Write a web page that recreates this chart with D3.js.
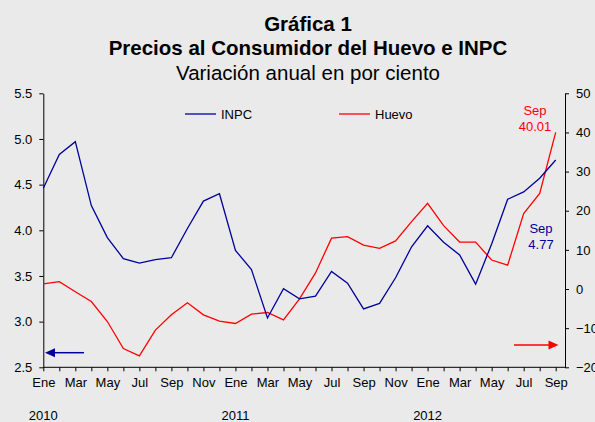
<!DOCTYPE html>
<html lang="es">
	<head>
		<meta charset="utf-8">
		<title>Gráfica 1</title>
		<script type="text/javascript" src="https://cdn.jsdelivr.net/npm/d3@7"></script>
		<style type="text/css">
			body {
				margin: 0;
				background-color: #eaeaea;
			}
			svg {
				display: block;
				font-family: "Liberation Sans", Arial, sans-serif;
			}
			.axis text {
				font-size: 13px;
				fill: #000;
			}
			.axis line, .axis path {
				stroke: #000;
			}
		</style>
	</head>
	<body>
		<script type="text/javascript">

			//Data: Jan 2010 .. Sep 2012, annual % change
			var monthLabels = ["Ene", "Feb", "Mar", "Abr", "May", "Jun", "Jul", "Ago", "Sep", "Oct", "Nov", "Dic"];
			var years = ["2010", "2011", "2012"];

			var inpc = [4.46, 4.83, 4.97, 4.27, 3.92, 3.69, 3.64, 3.68, 3.70, 4.02, 4.32, 4.40,
						3.78, 3.57, 3.04, 3.36, 3.25, 3.28, 3.55, 3.42, 3.14, 3.20, 3.48, 3.82,
						4.05, 3.87, 3.73, 3.41, 3.85, 4.34, 4.42, 4.57, 4.77];

			var huevo = [1.3, 1.9, -0.7, -3.2, -8.3, -15.2, -17.1, -10.5, -6.6, -3.5, -6.6, -8.2,
						 -8.8, -6.4, -6.0, -7.9, -2.5, 4.1, 13.0, 13.4, 11.2, 10.4, 12.3, 17.2,
						 21.9, 16.2, 12.0, 12.0, 7.4, 6.1, 19.3, 24.4, 40.01];

			var leftTicks = [2.5, 3.0, 3.5, 4.0, 4.5, 5.0, 5.5];
			var rightTicks = [-20, -10, 0, 10, 20, 30, 40, 50];

			var w = 595;
			var h = 422;
			var blue = "#00009c";
			var red = "#ff0000";

			//Plot box (note: "top" is reserved on window, so use other names)
			var padLeft = 43.3, padRight = 565, padTop = 93.3, padBottom = 367.3;

			var n = inpc.length;

			var xScale = d3.scaleLinear()
						   .domain([0, n - 1])
						   .range([padLeft, 555.7]);

			var yLeft = d3.scaleLinear()
						  .domain([2.5, 5.5])
						  .range([padBottom, padTop]);

			var yRight = d3.scaleLinear()
						   .domain([-20, 50])
						   .range([padBottom, padTop]);

			var svg = d3.select("body")
						.append("svg")
						.attr("width", w)
						.attr("height", h);

			//Titles
			var titles = [
				{ t: "Gráfica 1", y: 31, weight: "bold" },
				{ t: "Precios al Consumidor del Huevo e INPC", y: 55, weight: "bold" },
				{ t: "Variación anual en por ciento", y: 80, weight: "normal" }
			];
			svg.selectAll("text.title")
			   .data(titles)
			   .enter()
			   .append("text")
			   .attr("class", "title")
			   .attr("x", 308)
			   .attr("y", function(d) { return d.y; })
			   .attr("text-anchor", "middle")
			   .attr("font-size", "20.5px")
			   .attr("font-weight", function(d) { return d.weight; })
			   .text(function(d) { return d.t; });

			//Bottom axis (every month ticked, every other month labelled)
			var xAxis = d3.axisBottom(xScale)
						  .tickValues(d3.range(n))
						  .tickSize(4)
						  .tickSizeOuter(0)
						  .tickPadding(6)
						  .tickFormat(function(i) { return i % 2 == 0 ? monthLabels[i % 12] : ""; });

			var gx = svg.append("g")
						.attr("class", "axis")
						.attr("transform", "translate(0," + padBottom + ")")
						.call(xAxis);
			gx.select(".domain").remove();

			svg.append("line")
			   .attr("x1", padLeft)
			   .attr("x2", padRight)
			   .attr("y1", padBottom)
			   .attr("y2", padBottom)
			   .attr("stroke", "#000");

			//Year labels
			svg.selectAll("text.year")
			   .data(years)
			   .enter()
			   .append("text")
			   .attr("class", "year")
			   .attr("x", function(d, i) { return xScale(i * 12); })
			   .attr("y", 420)
			   .attr("text-anchor", "middle")
			   .attr("font-size", "13px")
			   .text(function(d) { return d; });

			//Left axis
			var yAxisL = d3.axisLeft(yLeft)
						   .tickValues(leftTicks)
						   .tickSize(4)
						   .tickSizeOuter(0)
						   .tickPadding(7)
						   .tickFormat(d3.format(".1f"));
			svg.append("g")
			   .attr("class", "axis")
			   .attr("transform", "translate(" + padLeft + ",0)")
			   .call(yAxisL);

			//Right axis
			var yAxisR = d3.axisRight(yRight)
						   .tickValues(rightTicks)
						   .tickSize(4)
						   .tickSizeOuter(0)
						   .tickPadding(7);
			svg.append("g")
			   .attr("class", "axis")
			   .attr("transform", "translate(" + padRight + ",0)")
			   .call(yAxisR);

			svg.selectAll(".axis text").attr("font-family", "Liberation Sans, Arial, sans-serif");

			//Lines
			var lineL = d3.line()
						  .x(function(d, i) { return xScale(i); })
						  .y(function(d) { return yLeft(d); });
			var lineR = d3.line()
						  .x(function(d, i) { return xScale(i); })
						  .y(function(d) { return yRight(d); });

			svg.append("path")
			   .datum(huevo)
			   .attr("d", lineR)
			   .attr("fill", "none")
			   .attr("stroke", red)
			   .attr("stroke-width", 1.3);

			svg.append("path")
			   .datum(inpc)
			   .attr("d", lineL)
			   .attr("fill", "none")
			   .attr("stroke", blue)
			   .attr("stroke-width", 1.3);

			//Legend
			var legend = [
				{ name: "INPC", color: blue, x: 185 },
				{ name: "Huevo", color: red, x: 339 }
			];
			var lg = svg.selectAll("g.legend")
						.data(legend)
						.enter()
						.append("g")
						.attr("class", "legend")
						.attr("transform", function(d) { return "translate(" + d.x + ",114)"; });
			lg.append("line")
			  .attr("x1", 0)
			  .attr("x2", 31)
			  .attr("stroke", function(d) { return d.color; })
			  .attr("stroke-width", 1.3);
			lg.append("text")
			  .attr("x", 36)
			  .attr("y", 4.5)
			  .attr("font-size", "13px")
			  .text(function(d) { return d.name; });

			//Last value labels
			var last = n - 1;
			var notes = [
				{ lines: [monthLabels[last % 12], d3.format(".2f")(huevo[last])], color: red, x: 535, y: 115 },
				{ lines: [monthLabels[last % 12], d3.format(".2f")(inpc[last])], color: blue, x: 541, y: 233 }
			];
			notes.forEach(function(d) {
				d.lines.forEach(function(t, k) {
					svg.append("text")
					   .attr("x", d.x)
					   .attr("y", d.y + k * 15.5)
					   .attr("text-anchor", "middle")
					   .attr("font-size", "13px")
					   .attr("fill", d.color)
					   .text(t);
				});
			});

			//Arrows showing which axis each series uses
			var arrows = [
				{ x1: 84, x2: 45, y: 352.7, color: blue },
				{ x1: 514, x2: 558.5, y: 345, color: red }
			];
			arrows.forEach(function(a) {
				var dir = a.x2 > a.x1 ? 1 : -1;
				svg.append("line")
				   .attr("x1", a.x1)
				   .attr("x2", a.x2 - dir * 9)
				   .attr("y1", a.y)
				   .attr("y2", a.y)
				   .attr("stroke", a.color)
				   .attr("stroke-width", 1.5);
				svg.append("path")
				   .attr("d", "M" + a.x2 + "," + a.y + "L" + (a.x2 - dir * 10) + "," + (a.y - 4.5) +
							  "L" + (a.x2 - dir * 10) + "," + (a.y + 4.5) + "Z")
				   .attr("fill", a.color);
			});

		</script>
	</body>
</html>
